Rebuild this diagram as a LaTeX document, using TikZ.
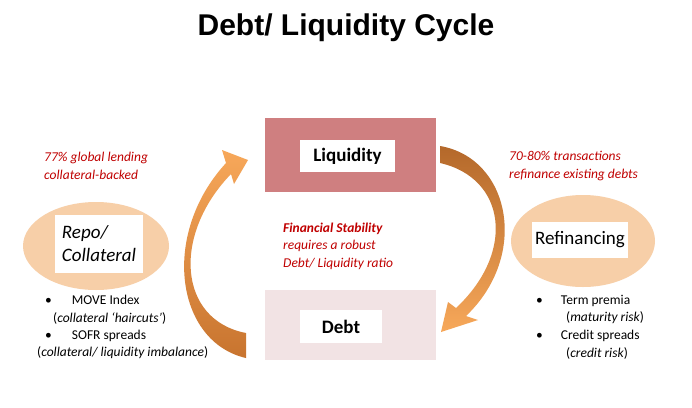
\documentclass[tikz,border=0pt]{standalone}
\usepackage{fontspec}
\usetikzlibrary{shapes.geometric}
\setmainfont{Carlito}
\newfontfamily\titlefont{Liberation Sans}
\definecolor{redtxt}{HTML}{C00000}
\definecolor{liqfill}{HTML}{CF7F80}
\definecolor{debtfill}{HTML}{F2E3E4}
\definecolor{ellfill}{HTML}{F7CFA8}
\definecolor{orlight}{HTML}{F7A85A}
\definecolor{ordark}{HTML}{C8742F}
\begin{document}
\begin{tikzpicture}[x=1pt,y=-1pt,
  whitebox/.style={fill=white,inner sep=0pt,font=\fontsize{19}{22}\selectfont},
  note/.style={text=redtxt,font=\fontsize{13.5}{17.5}\selectfont\itshape,align=left,inner sep=0pt},
  blt/.style={font=\fontsize{13.5}{16}\selectfont,inner sep=0pt}]
\useasboundingbox (0,0) rectangle (692,407);
\fill[white] (0,0) rectangle (692,407);
\node (title) at (346,28) {\titlefont\bfseries\fontsize{30}{34}\selectfont Debt/ Liquidity Cycle};
% Liquidity
\node (liq) [fill=liqfill,minimum width=171pt,minimum height=74pt,inner sep=0pt] at (350.5,155) {};
\node (liqt) [whitebox,minimum width=95pt,minimum height=32pt] at (347.5,156) {\bfseries Liquidity};
% Debt
\node (debt) [fill=debtfill,minimum width=171pt,minimum height=70pt,inner sep=0pt] at (350.5,325) {};
\node (debtt) [whitebox,minimum width=82pt,minimum height=33pt] at (341,326.5) {\bfseries Debt};
% Ellipses
\node (repo) [ellipse,fill=ellfill,minimum width=146pt,minimum height=88pt] at (96,246) {};
\node (repot) [whitebox,minimum width=88pt,minimum height=58pt,align=left,font=\fontsize{19}{23}\selectfont\itshape] at (99,244) {Repo/\\Collateral};
\node (refi) [ellipse,fill=ellfill,minimum width=144pt,minimum height=92pt] at (583,241) {};
\node (refit) [whitebox,minimum width=96pt,minimum height=36pt] at (580,240) {Refinancing};
% notes
\node (n1) [note,anchor=west] at (44,166) {77\% global lending\\collateral-backed};
\node (n2) [note,anchor=west] at (509,166) {70-80\% transactions\\refinance existing debts};
\node (n3) [note,anchor=west] at (283,246) {\bfseries Financial Stability\\requires a robust\\Debt/ Liquidity ratio};
% bullets
\node (b1) [blt,anchor=west] at (45,300) {•\hspace{20pt}MOVE Index};
\node (b2) [blt,anchor=west] at (53,318) {(\textit{collateral ‘haircuts’})};
\node (b3) [blt,anchor=west] at (45,336) {•\hspace{20pt}SOFR spreads};
\node (b4) [blt,anchor=west] at (37,353) {(\textit{collateral/ liquidity imbalance})};
\node (c1) [blt,anchor=west] at (536,301) {•\hspace{18pt}Term premia};
\node (c2) [blt,anchor=west] at (566,318) {(\textit{maturity risk})};
\node (c3) [blt,anchor=west] at (536,336) {•\hspace{18pt}Credit spreads};
\node (c4) [blt,anchor=west] at (566,353) {(\textit{credit risk})};
% left arrow
\shade[top color=orlight,bottom color=ordark]
  (246,358) .. controls (176,342) and (160,235) .. (226,163)
  -- (222,150) -- (248,160) -- (234,184) -- (231,174)
  .. controls (172,235) and (178,320) .. (246,333) -- cycle;
% right arrow
\shade[top color=ordark!90!black,bottom color=orlight]
  (440,146) .. controls (510,158) and (530,255) .. (466,316)
  -- (478,320) -- (441,332) -- (448,302) -- (456,308)
  .. controls (516,252) and (506,178) .. (440,163) -- cycle;
\end{tikzpicture}
\end{document}
